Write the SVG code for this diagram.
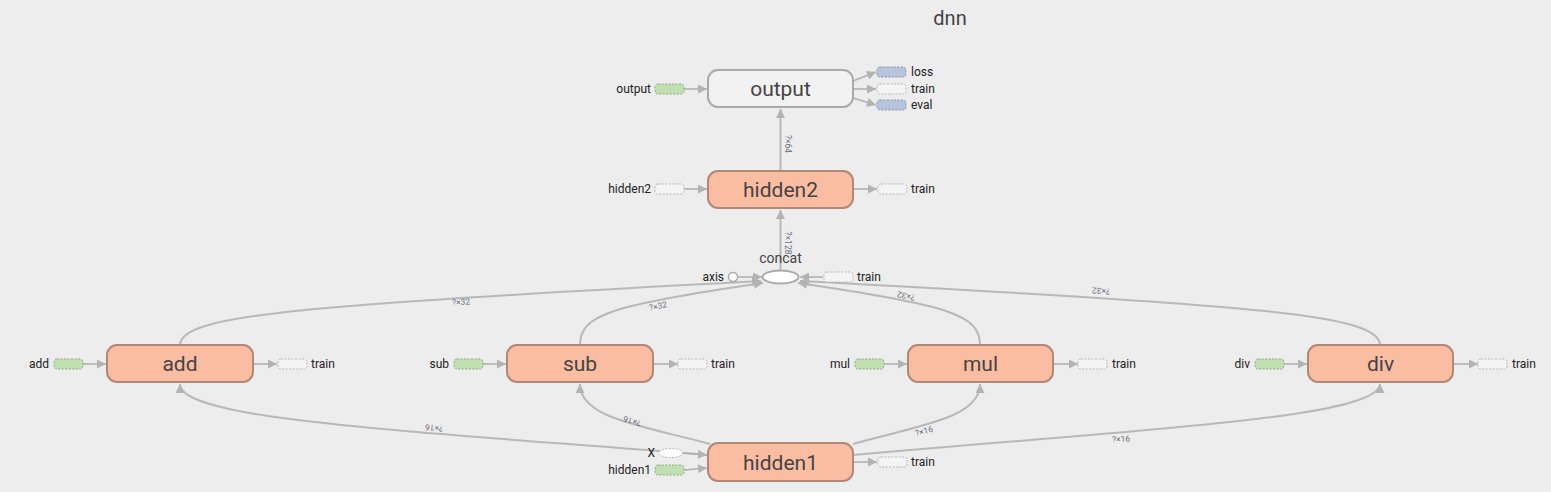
<svg xmlns="http://www.w3.org/2000/svg" width="1551" height="492" viewBox="0 0 1551 492">
<defs>
<style>
.bg{fill:#ededed}
.op{fill:#fbbda2;stroke:#b08878;stroke-width:2}
.meta{fill:#f2f2f2;stroke:#aaaaaa;stroke-width:2}
.nl{font-family:Roboto,"Liberation Sans",sans-serif;font-size:21px;fill:#444;text-anchor:middle}
.sl{font-family:Roboto,"Liberation Sans",sans-serif;font-size:12px;fill:#222}
.end{text-anchor:end}
.el{font-family:Roboto,"Liberation Sans",sans-serif;font-size:8.5px;fill:#707080;text-anchor:middle}
.g{fill:#c0e0b2;stroke:#8fa886;stroke-width:1;stroke-dasharray:2,1.5}
.b{fill:#b8c4dc;stroke:#8795b0;stroke-width:1;stroke-dasharray:2,1.5}
.w{fill:#f4f4f4;stroke:#b5b5b5;stroke-width:1;stroke-dasharray:2,1.5}
.e{fill:none;stroke:#b8b8b8;stroke-width:2}
.s{fill:none;stroke:#b0b0b0;stroke-width:1.6}
</style>
<marker id="ar" viewBox="0 0 10 10" refX="10" refY="5" markerWidth="10" markerHeight="9" markerUnits="userSpaceOnUse" orient="auto">
<path d="M0,0 L10,5 L0,10 z" fill="#b3b3b3"/>
</marker>
</defs>
<rect class="bg" x="0" y="0" width="1551" height="492"/>
<text x="950" y="25" font-family="Roboto,'Liberation Sans',sans-serif" font-size="20" fill="#444" text-anchor="middle">dnn</text>

<g id="connectors">
<path class="e" d="M780.5,171 L780.5,109" marker-end="url(#ar)"/>
<path class="e" d="M780.5,270 L780.5,210" marker-end="url(#ar)"/>
<path class="e" d="M180,345 C180,315 300,305 761,281" marker-end="url(#ar)"/>
<path class="e" d="M580,345 C580,315 610,305 763,283" marker-end="url(#ar)"/>
<path class="e" d="M980,345 C980,315 950,305 798,283" marker-end="url(#ar)"/>
<path class="e" d="M1380,345 C1380,315 1260,305 800,281" marker-end="url(#ar)"/>
<path class="e" d="M707,455 C400,430 180,420 180,384" marker-end="url(#ar)"/>
<path class="e" d="M710,444 C640,425 580,418 580,384" marker-end="url(#ar)"/>
<path class="e" d="M853,444 C920,425 980,418 980,384" marker-end="url(#ar)"/>
<path class="e" d="M853,455 C1100,432 1380,420 1380,384" marker-end="url(#ar)"/>
<path class="s" d="M684,89 L707,89" marker-end="url(#ar)"/>
<path class="s" d="M853,81 L876,72" marker-end="url(#ar)"/>
<path class="s" d="M853,89 L876,89" marker-end="url(#ar)"/>
<path class="s" d="M853,98 L876,105" marker-end="url(#ar)"/>
<path class="s" d="M684,189 L707,189" marker-end="url(#ar)"/>
<path class="s" d="M853,189 L877,189" marker-end="url(#ar)"/>
<path class="s" d="M738,277 L762,277" marker-end="url(#ar)"/>
<path class="s" d="M823,277 L800,277" marker-end="url(#ar)"/>
<path class="s" d="M83,364 L106,364" marker-end="url(#ar)"/>
<path class="s" d="M253,364 L277,364" marker-end="url(#ar)"/>
<path class="s" d="M483,364 L506,364" marker-end="url(#ar)"/>
<path class="s" d="M653,364 L678,364" marker-end="url(#ar)"/>
<path class="s" d="M884,364 L907,364" marker-end="url(#ar)"/>
<path class="s" d="M1053,364 L1078,364" marker-end="url(#ar)"/>
<path class="s" d="M1284,364 L1307,364" marker-end="url(#ar)"/>
<path class="s" d="M1453,364 L1478,364" marker-end="url(#ar)"/>
<path class="s" d="M683,453 L707,455" marker-end="url(#ar)"/>
<path class="s" d="M684,470 L707,468" marker-end="url(#ar)"/>
<path class="s" d="M853,462 L877,462" marker-end="url(#ar)"/>
<text class="el" transform="translate(784,144) rotate(90)" dy="-1">?×64</text>
<text class="el" transform="translate(784,243) rotate(90)" dy="-1">?×128</text>
<text class="el" transform="translate(461,302) rotate(-4)" dy="3">?×32</text>
<text class="el" transform="translate(658,306) rotate(-12)" dy="3">?×32</text>
<text class="el" transform="translate(906,296) rotate(192)" dy="3">?×32</text>
<text class="el" transform="translate(1101,291) rotate(184)" dy="3">?×32</text>
<text class="el" transform="translate(434,428) rotate(185)" dy="3">?×16</text>
<text class="el" transform="translate(632,421) rotate(195)" dy="3">?×16</text>
<text class="el" transform="translate(924,431) rotate(-15)" dy="3">?×16</text>
<text class="el" transform="translate(1121,439) rotate(-4)" dy="3">?×16</text>
</g>

<g id="output">
<rect class="meta" x="708" y="70" width="145" height="37" rx="10"/>
<text class="nl" x="780.5" y="96">output</text>
</g>
<g id="output-input">
<text class="sl end" x="651" y="93">output</text>
<rect class="g" x="655" y="84" width="29" height="10" rx="3"/>
</g>
<g id="output-loss">
<rect class="b" x="877" y="67" width="29" height="10" rx="3"/>
<text class="sl" x="911" y="76">loss</text>
</g>
<g id="output-train">
<rect class="w" x="877" y="84" width="29" height="10" rx="3"/>
<text class="sl" x="911" y="93">train</text>
</g>
<g id="output-eval">
<rect class="b" x="877" y="100" width="29" height="10" rx="3"/>
<text class="sl" x="911" y="109">eval</text>
</g>

<g id="hidden2">
<rect class="op" x="708" y="171" width="145" height="37" rx="10"/>
<text class="nl" x="780.5" y="197">hidden2</text>
</g>
<g id="hidden2-input">
<text class="sl end" x="651" y="193">hidden2</text>
<rect class="w" x="655" y="184" width="29" height="10" rx="3"/>
</g>
<g id="hidden2-train">
<rect class="w" x="878" y="184" width="29" height="10" rx="3"/>
<text class="sl" x="911" y="193">train</text>
</g>

<g id="concat">
<ellipse cx="780.5" cy="277" rx="18" ry="6.5" fill="#ffffff" stroke="#aaaaaa" stroke-width="2"/>
<text x="780.5" y="263" font-family="Roboto,'Liberation Sans',sans-serif" font-size="14" fill="#444" text-anchor="middle">concat</text>
</g>
<g id="concat-axis">
<text class="sl end" x="724" y="281">axis</text>
<circle cx="733" cy="277" r="4.5" fill="#ffffff" stroke="#aaaaaa" stroke-width="1.5"/>
</g>
<g id="concat-train">
<rect class="w" x="824" y="272" width="29" height="10" rx="3"/>
<text class="sl" x="857" y="281">train</text>
</g>

<g id="add">
<rect class="op" x="107" y="345" width="146" height="37" rx="10"/>
<text class="nl" x="180" y="371">add</text>
</g>
<g id="add-input">
<text class="sl end" x="49" y="368">add</text>
<rect class="g" x="54" y="359" width="29" height="10" rx="3"/>
</g>
<g id="add-train">
<rect class="w" x="278" y="359" width="29" height="10" rx="3"/>
<text class="sl" x="311" y="368">train</text>
</g>

<g id="sub">
<rect class="op" x="507" y="345" width="146" height="37" rx="10"/>
<text class="nl" x="580" y="371">sub</text>
</g>
<g id="sub-input">
<text class="sl end" x="449" y="368">sub</text>
<rect class="g" x="454" y="359" width="29" height="10" rx="3"/>
</g>
<g id="sub-train">
<rect class="w" x="678" y="359" width="29" height="10" rx="3"/>
<text class="sl" x="711" y="368">train</text>
</g>

<g id="mul">
<rect class="op" x="908" y="345" width="145" height="37" rx="10"/>
<text class="nl" x="980.5" y="371">mul</text>
</g>
<g id="mul-input">
<text class="sl end" x="850" y="368">mul</text>
<rect class="g" x="855" y="359" width="29" height="10" rx="3"/>
</g>
<g id="mul-train">
<rect class="w" x="1078" y="359" width="29" height="10" rx="3"/>
<text class="sl" x="1112" y="368">train</text>
</g>

<g id="div">
<rect class="op" x="1308" y="345" width="145" height="37" rx="10"/>
<text class="nl" x="1380.5" y="371">div</text>
</g>
<g id="div-input">
<text class="sl end" x="1250" y="368">div</text>
<rect class="g" x="1255" y="359" width="29" height="10" rx="3"/>
</g>
<g id="div-train">
<rect class="w" x="1478" y="359" width="29" height="10" rx="3"/>
<text class="sl" x="1512" y="368">train</text>
</g>

<g id="hidden1">
<rect class="op" x="708" y="443" width="145" height="38" rx="10"/>
<text class="nl" x="780.5" y="470">hidden1</text>
</g>
<g id="hidden1-X">
<text class="sl end" x="655" y="457">X</text>
<ellipse cx="671" cy="453" rx="12" ry="4.5" fill="#ffffff" stroke="#b5b5b5" stroke-width="1" stroke-dasharray="2,1.5"/>
</g>
<g id="hidden1-input">
<text class="sl end" x="651" y="474">hidden1</text>
<rect class="g" x="655" y="465" width="29" height="10" rx="3"/>
</g>
<g id="hidden1-train">
<rect class="w" x="878" y="457" width="29" height="10" rx="3"/>
<text class="sl" x="911" y="466">train</text>
</g>
</svg>
